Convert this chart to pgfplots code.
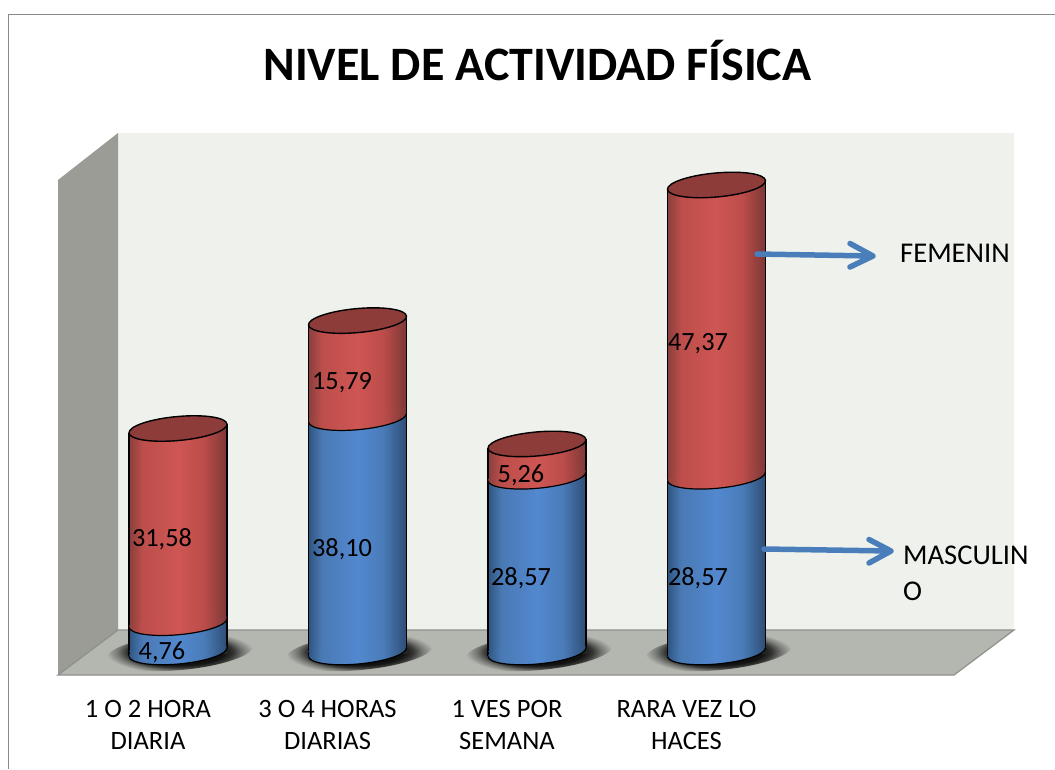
\documentclass[border=0pt]{standalone}
\usepackage{pgfplots}
\usepackage{pgfplotstable}
\usepackage{fontspec}
\pgfplotsset{compat=1.18}
\setmainfont{Carlito}

\definecolor{wallc}{HTML}{EFF2EC}
\definecolor{sidec}{HTML}{9A9C95}
\definecolor{floorc}{HTML}{B4B7B0}
\definecolor{edgec}{HTML}{8E908B}
\definecolor{framec}{HTML}{8A8A8A}
\definecolor{arrowc}{HTML}{4A7EBB}
\definecolor{capc}{HTML}{8E3C3A}
\definecolor{redA}{HTML}{8A3F3D}
\definecolor{redB}{HTML}{BD4E4B}
\definecolor{redC}{HTML}{CE5653}
\definecolor{redD}{HTML}{BC4D4A}
\definecolor{redE}{HTML}{7C3836}
\definecolor{bluA}{HTML}{2F5580}
\definecolor{bluB}{HTML}{4A7AB5}
\definecolor{bluC}{HTML}{5288CF}
\definecolor{bluD}{HTML}{4A7CB8}
\definecolor{bluE}{HTML}{2D4D75}

\pgfdeclarehorizontalshading{cylred}{100bp}{color(0bp)=(redA); color(25bp)=(redA); color(32bp)=(redB); color(50bp)=(redC); color(63bp)=(redD); color(75bp)=(redE); color(100bp)=(redE)}
\pgfdeclarehorizontalshading{cylblue}{100bp}{color(0bp)=(bluA); color(25bp)=(bluA); color(32bp)=(bluB); color(50bp)=(bluC); color(63bp)=(bluD); color(75bp)=(bluE); color(100bp)=(bluE)}
\pgfdeclareradialshading{floorshadow}{\pgfpointorigin}{color(0bp)=(black); color(15bp)=(black!90!floorc); color(18bp)=(black!70!floorc); color(21bp)=(black!35!floorc); color(25bp)=(floorc); color(50bp)=(floorc)}

% tilted ellipse of the cylinder ends
\newcommand\cylring{\pgfpathellipse{\pgfpointorigin}{\pgfqpoint{49pt}{4.46pt}}{\pgfqpoint{-1.09pt}{11.95pt}}}
% its front half only
\newcommand\frontarc{%
  \pgfsetlinewidth{1.2pt}\pgfsetstrokecolor{black}%
  \pgfpathmoveto{\pgfqpoint{-49pt}{-4.46pt}}%
  \pgfpatharcaxes{180}{360}{\pgfqpoint{49pt}{4.46pt}}{\pgfqpoint{-1.09pt}{11.95pt}}%
  \pgfusepath{stroke}}
\newcommand\patch[5]{\pgfsetfillcolor{#1}\pgfpathrectangle{\pgfqpoint{#2pt}{#3pt}}{\pgfqpoint{#4pt}{#5pt}}\pgfusepath{fill}}
\newcommand\sideline[3]{\pgfsetlinewidth{1.2pt}\pgfsetstrokecolor{black}\pgfpathmoveto{\pgfqpoint{#1pt}{#2pt}}\pgfpathlineto{\pgfqpoint{#1pt}{#3pt}}\pgfusepath{stroke}}

% base of a bar: dark blot on the floor
\pgfdeclareplotmark{blot}{%
  \pgfpathellipse{\pgfqpoint{2pt}{0pt}}{\pgfqpoint{73.5pt}{6.7pt}}{\pgfqpoint{-1.5pt}{18pt}}%
  \pgfshadepath{floorshadow}{0}\pgfusepath{discard}%
}
% lower end of the blue part
\pgfdeclareplotmark{bottomcap}{%
  \patch{black!80!floorc}{38}{-1.5}{12.5}{5.9}%
  \patch{bluA}{-49}{-4.5}{11}{5.5}%
  \sideline{-49}{0.5}{-4.46}%
  \cylring\pgfshadepath{cylblue}{0}\pgfusepath{discard}%
  \frontarc
}
% seam between blue and red
\pgfdeclareplotmark{seam}{%
  \patch{redA}{-49}{-4.5}{11}{5.5}%
  \patch{bluE}{38}{-1}{11}{5.4}%
  \sideline{49}{-1}{4.46}%
  \sideline{-49}{1}{-4.46}%
  \cylring\pgfshadepath{cylred}{0}\pgfusepath{discard}%
  \frontarc
}
% open top of the red part
\pgfdeclareplotmark{topcap}{%
  \patch{wallc}{-50.5}{-4.4}{12.5}{6.4}%
  \patch{redE}{36}{-1}{13}{5.4}%
  \sideline{49}{-1}{4.46}%
  \sideline{-49}{-8}{-4.46}%
  \pgfsetfillcolor{capc}\pgfsetstrokecolor{black}\pgfsetlinewidth{1.4pt}%
  \cylring\pgfusepath{fill,stroke}%
}

\pgfplotsset{plotarea/.style={
    at={(58pt,-675pt)},
    anchor=south west,
    scale only axis,
    width=897pt,
    height=542pt,
    xmin=-0.6685, xmax=4.3287,
    ymin=-3.74, ymax=84.39,
    clip=false,
}}

\pgfplotstableread{
x    masc   fem    total
0    4.76   31.58  36.34
1    38.10  15.79  53.89
2    28.57  5.26   33.83
3    28.57  47.37  75.94
}\bars

\pgfplotstableread{
x      y      label
-0.089 0.33   4,76
-0.089 18.70  31,58
0.914  17.07  38,10
0.914  44.07  15,79
1.911  12.36  28,57
1.911  29.11  5,26
2.897  12.36  28,57
2.897  50.41  47,37
}\barlabels

\begin{document}
\begin{tikzpicture}[x=1pt,y=-1pt]
  \path[use as bounding box] (0,0) rectangle (1055,769);
  % frame of the pasted chart
  \draw[framec,line width=1.6pt] (8.5,769) -- (8.5,14.5) -- (1055,14.5);
  % walls and floor
  \fill[wallc] (118,133) rectangle (1014,630);
  \fill[sidec] (58,180) -- (118,133) -- (118,630) -- (58,675) -- cycle;
  \filldraw[fill=floorc,draw=edgec,line width=1.2pt] (58,675) -- (118,630) -- (1014,630) -- (954,675) -- cycle;

  % blots go in their own axis, marks of the main axis land on top of its bars
  \begin{axis}[plotarea,hide axis]
    \addplot[only marks,mark=blot] table[x=x,y expr=0] {\bars};
  \end{axis}

  \begin{axis}[
    plotarea,
    hide y axis,
    axis x line*=bottom,
    x axis line style={draw=none},
    xtick={0,1,2,3},
    xticklabels={{1 O 2 HORA\\DIARIA},{3 O 4 HORAS\\DIARIAS},{1 VES POR\\SEMANA},{RARA VEZ LO\\HACES}},
    xtick style={draw=none},
    xticklabel style={align=center,xshift=-30pt,yshift=-22pt,font=\fontsize{26.5}{32}\selectfont},
    title={\fontsize{48}{54}\selectfont\bfseries NIVEL DE ACTIVIDAD FÍSICA},
    title style={at={(0.5,1)},anchor=center,yshift=66pt,xshift=31pt},
    unbounded coords=discard,
  ]
    \pgfplotsinvokeforeach{0,1,2,3}{
      \addplot[ybar,bar shift=0pt,bar width=98pt,restrict x to domain=#1:#1,forget plot,draw=black,line width=1.2pt,shade,shading=cylred] table[x=x,y=total] {\bars};
      \addplot[ybar,bar shift=0pt,bar width=98pt,restrict x to domain=#1:#1,forget plot,draw=black,line width=1.2pt,shade,shading=cylblue] table[x=x,y=masc] {\bars};
    }
    \addplot[only marks,mark=bottomcap,forget plot] table[x=x,y expr=0] {\bars};
    \addplot[only marks,mark=seam,forget plot] table[x=x,y=masc] {\bars};
    \addplot[only marks,mark=topcap,forget plot] table[x=x,y=total] {\bars};
    \addplot[only marks,mark=none,forget plot,
      nodes near coords,point meta=explicit symbolic,
      every node near coord/.style={anchor=center,inner sep=0pt,yshift=-2pt,font=\fontsize{26.3}{30}\selectfont}]
      table[x=x,y=y,meta=label] {\barlabels};
  \end{axis}

  % series names with their arrows
  \draw[arrowc,line width=5.5pt,cap=round,join=round] (757,254) -- (873,256) (850,243.5) -- (873,256) -- (850,267);
  \draw[arrowc,line width=5.5pt,cap=round,join=round] (764,549) -- (891,551) (869,539.5) -- (891,551) -- (869,563);
  \node[anchor=west,inner sep=0pt,font=\fontsize{28.6}{30}\selectfont] at (900,253) {FEMENIN};
  \node[anchor=west,inner sep=0pt,font=\fontsize{28.6}{30}\selectfont] at (903,555) {MASCULIN};
  \node[anchor=west,inner sep=0pt,font=\fontsize{28.6}{30}\selectfont] at (903,591) {O};
\end{tikzpicture}
\end{document}
